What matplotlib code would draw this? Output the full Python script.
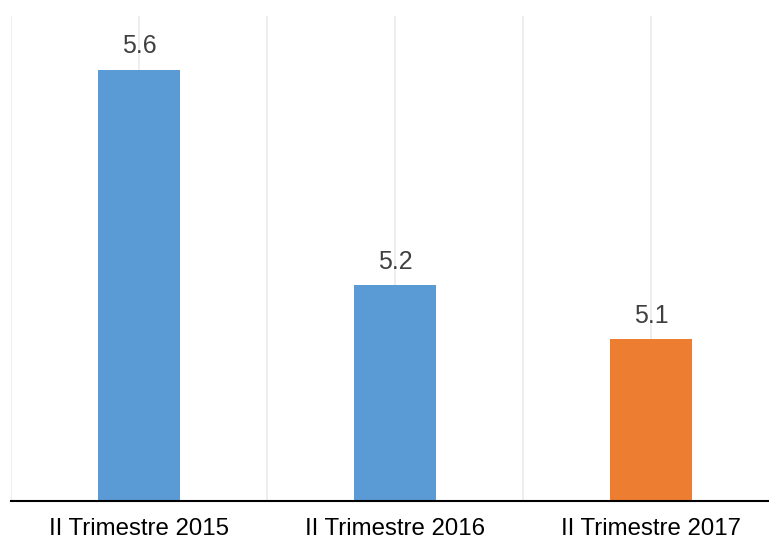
import matplotlib.pyplot as plt
from matplotlib.ticker import MultipleLocator

plt.rcParams['font.family'] = ['Liberation Sans', 'DejaVu Sans']

categories = ['II Trimestre 2015', 'II Trimestre 2016', 'II Trimestre 2017']
values = [5.6, 5.2, 5.1]
colors = ['#5B9BD5', '#5B9BD5', '#ED7D31']

fig = plt.figure(figsize=(7.69, 5.42), dpi=100)
# the plot area runs a little past the right edge of the picture
ax = fig.add_axes([11 / 769, 41 / 542, 768 / 769, 485 / 542])

x = list(range(len(categories)))
bars = ax.bar(x, values, width=0.324, color=colors, zorder=2)

for xi, v in zip(x, values):
    ax.annotate(f'{v:.1f}', (xi, v), xytext=(0, 12), textcoords='offset points',
                ha='center', va='baseline', fontsize=18, color='#404040')

ax.set_xlim(-0.5, 2.5)
ax.set_ylim(4.8, 5.7)
ax.set_xticks(x)
ax.set_xticklabels(categories, fontsize=17.3, color='#000000')
ax.xaxis.set_minor_locator(MultipleLocator(0.5))
ax.tick_params(axis='x', which='both', length=0, pad=12)
ax.set_yticks([])

ax.grid(axis='x', which='both', color='#EDEDED', linewidth=1.3, zorder=0)
for side in ['left', 'right', 'top']:
    ax.spines[side].set_visible(False)
ax.spines['bottom'].set_linewidth(1.5)
ax.spines['bottom'].set_color('#000000')
ax.spines['bottom'].set_zorder(3)

fig.savefig('out.png', dpi=100)
